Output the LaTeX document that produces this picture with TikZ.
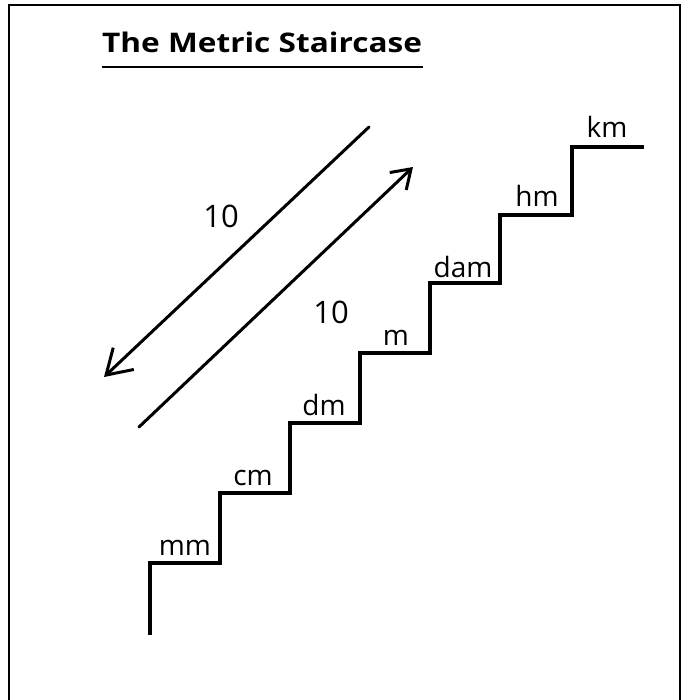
\documentclass[tikz,border=0pt]{standalone}
\usepackage{fontspec}
\setmainfont{Open Sans}
\usetikzlibrary{arrows.meta}
\begin{document}
\begin{tikzpicture}[x=1pt,y=-1pt,
  lbl/.style={anchor=base,inner sep=0pt,font=\fontsize{28}{28}\selectfont},
  num/.style={anchor=base,inner sep=0pt,font=\fontsize{31}{31}\selectfont},
  stair/.style={line width=4pt,line join=miter,line cap=rect},
  arr/.style={line width=3pt,line cap=round}]
\useasboundingbox (0,0) rectangle (682,700);
\fill[white] (0,0) rectangle (682,700);
\draw[line width=2pt] (9,720) -- (9,5) -- (680,5) -- (680,720);
% title
\node[anchor=base west,inner sep=0pt,font=\fontsize{27}{27}\selectfont\bfseries] (title) at (102,53) {\scalebox{1.17}[1]{The Metric Staircase}};
\draw[line width=2pt] (102,67) -- (423,67);
% staircase
\draw[stair] (150,633) -- (150,563) -- (220,563) -- (220,493) -- (290,493) -- (290,423)
  -- (360,423) -- (360,353) -- (430,353) -- (430,283) -- (500,283) -- (500,215)
  -- (572,215) -- (572,147) -- (642,147);
\node[lbl] (mm) at (185,555) {mm};
\node[lbl] (cm) at (253,485) {cm};
\node[lbl] (dm) at (324,415) {dm};
\node[lbl] (m) at (396,345) {m};
\node[lbl] (dam) at (463,277) {dam};
\node[lbl] (hm) at (537,207) {hm};
\node[lbl] (km) at (607,138) {km};
% arrows
\coordinate (a1s) at (369,127);
\coordinate (a1e) at (104,377);
\coordinate (a2s) at (139,427);
\coordinate (a2e) at (413,167);
\draw[arr,-{Straight Barb[length=24pt,width=30pt,line width=3pt]}] (a1s) -- (a1e);
\draw[arr,-{Straight Barb[length=18pt,width=24pt,line width=3pt]}] (a2s) -- (a2e);
\node[num] (ten1) at (221,228) {10};
\node[num] (ten2) at (331,323) {10};
\end{tikzpicture}
\end{document}
